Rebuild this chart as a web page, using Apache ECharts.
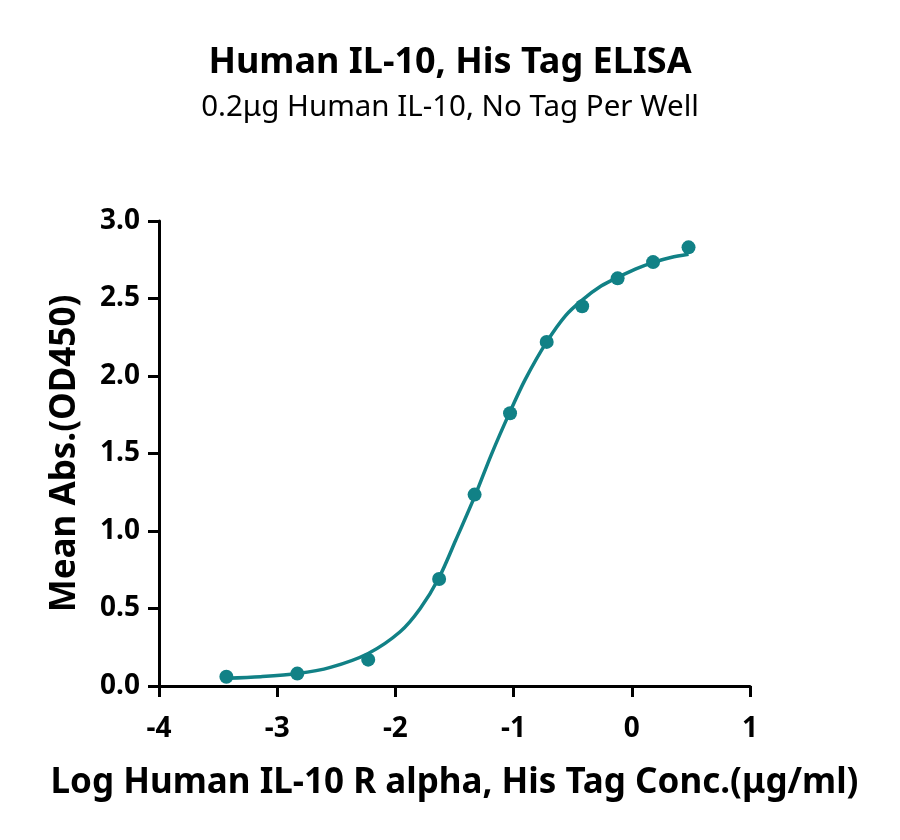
<!DOCTYPE html>
<html>
<head>
<meta charset="utf-8">
<script src="https://cdn.jsdelivr.net/npm/echarts@6/dist/echarts.min.js"></script>
<style>
html,body{margin:0;padding:0;background:#fff;}
#chart{width:900px;height:840px;}
</style>
</head>
<body>
<div id="chart"></div>
<script>
// Measured points: log concentration (µg/ml) and mean OD450
const logConc = [-3.43, -2.83, -2.23, -1.63, -1.33, -1.03, -0.72, -0.42, -0.12, 0.18, 0.48];
const meanOD  = [0.06, 0.08, 0.17, 0.69, 1.235, 1.76, 2.22, 2.45, 2.63, 2.735, 2.83];

// Fitted curve
const curveX = [-3.43, -3.14, -2.83, -2.55, -2.23, -1.96, -1.79, -1.63, -1.49, -1.32, -1.19, -1.03, -0.90, -0.72, -0.56, -0.42, -0.26, -0.11, 0.03, 0.19, 0.33, 0.48];
const curveY = [0.05, 0.06, 0.08, 0.12, 0.21, 0.35, 0.50, 0.70, 0.94, 1.24, 1.49, 1.77, 1.98, 2.22, 2.39, 2.49, 2.58, 2.64, 2.69, 2.735, 2.765, 2.785];

const xTicks = [-4, -3, -2, -1, 0, 1];
const yTicks = [0.0, 0.5, 1.0, 1.5, 2.0, 2.5, 3.0];

const titleText = 'Human IL-10, His Tag ELISA';
const subtitleText = '0.2μg Human IL-10, No Tag Per Well';
const xName = 'Log Human IL-10 R alpha, His Tag Conc.(μg/ml)';
const yName = 'Mean Abs.(OD450)';

const teal = '#118186';
const font = '"Noto Sans", "Open Sans", sans-serif';

const chart = echarts.init(document.getElementById('chart'));
chart.setOption({
  animation: false,
  backgroundColor: '#fff',
  title: {
    text: titleText,
    subtext: subtitleText,
    left: 'center',
    top: 40,
    itemGap: 12,
    textStyle: {fontFamily: font, fontWeight: 'bold', fontSize: 36, color: '#000'},
    subtextStyle: {fontFamily: font, fontWeight: 'normal', fontSize: 29.5, color: '#000'}
  },
  grid: {left: 159, right: 150, top: 221, bottom: 154, containLabel: false},
  xAxis: {
    type: 'value',
    min: -4, max: 1, interval: 1,
    name: xName,
    nameLocation: 'middle',
    nameGap: 80,
    nameTextStyle: {fontFamily: font, fontWeight: 'bold', fontSize: 35, color: '#000'},
    axisLine: {onZero: false, lineStyle: {color: '#000', width: 3}},
    axisTick: {show: true, length: 11, lineStyle: {color: '#000', width: 3}},
    axisLabel: {margin: 29, fontFamily: font, fontWeight: 'bold', fontSize: 28, color: '#000',
      formatter: v => String(v)},
    splitLine: {show: false}
  },
  yAxis: {
    type: 'value',
    min: 0, max: 3, interval: 0.5,
    name: yName,
    nameLocation: 'middle',
    nameGap: 76,
    nameTextStyle: {fontFamily: font, fontWeight: 'bold', fontSize: 35, color: '#000'},
    axisLine: {onZero: false, lineStyle: {color: '#000', width: 3}},
    axisTick: {show: true, length: 11, lineStyle: {color: '#000', width: 3}},
    axisLabel: {margin: 19, fontFamily: font, fontWeight: 'bold', fontSize: 28, color: '#000',
      formatter: v => v.toFixed(1)},
    splitLine: {show: false}
  },
  series: [
    {
      type: 'line',
      data: curveX.map((x, i) => [x, curveY[i]]),
      smooth: 0.3,
      showSymbol: false,
      lineStyle: {color: teal, width: 3.5},
      z: 2
    },
    {
      type: 'scatter',
      data: logConc.map((x, i) => [x, meanOD[i]]),
      symbol: 'circle',
      symbolSize: 14,
      itemStyle: {color: teal, opacity: 1},
      z: 3
    }
  ]
});
</script>
</body>
</html>
